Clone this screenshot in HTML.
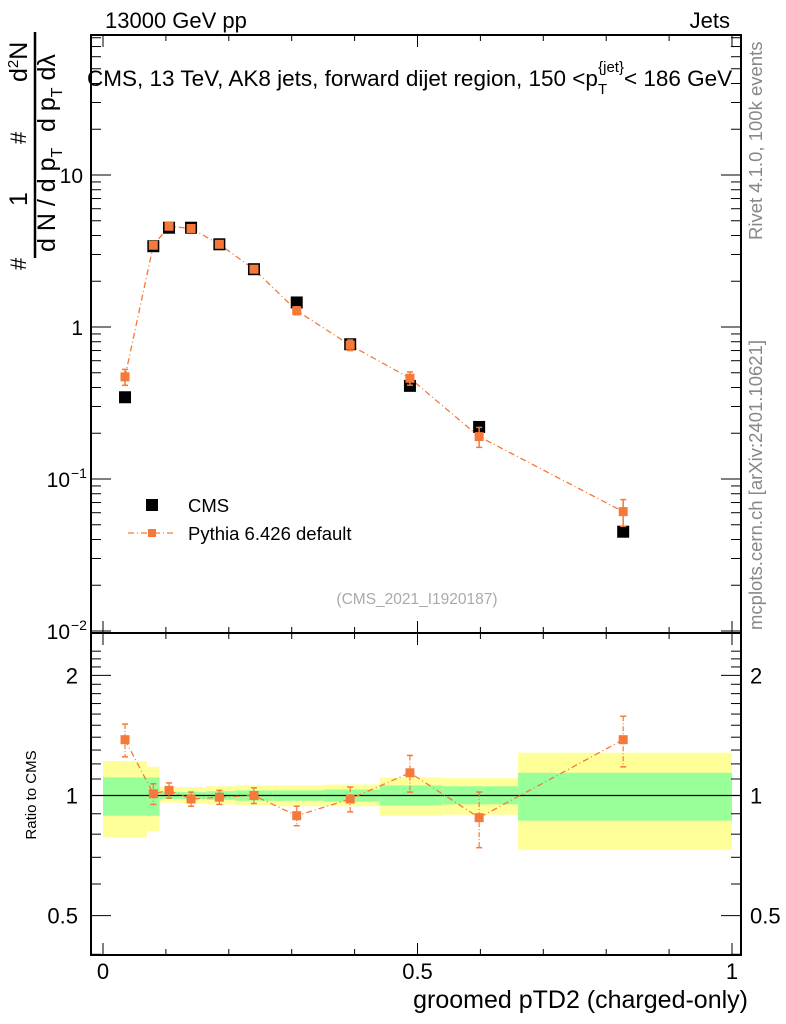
<!DOCTYPE html>
<html><head><meta charset="utf-8"><style>
html,body{margin:0;padding:0;background:#fff}
svg{display:block;font-family:"Liberation Sans",sans-serif}
</style></head><body>
<svg id="chart" width="786" height="1024" viewBox="0 0 786 1024">
<g id="bands"></g>
<g id="grid"></g>
<g id="marks"></g>
<text x="105" y="28" font-size="22">13000 GeV pp</text>
<text x="730" y="28" font-size="22" text-anchor="end">Jets</text>
<text x="87" y="86" font-size="22.5">CMS, 13 TeV, AK8 jets, forward dijet region, 150 &lt;p<tspan font-size="15" dy="8">T</tspan><tspan font-size="15" dy="-22" dx="-9">{jet}</tspan><tspan dy="14">&lt; 186 GeV</tspan></text>
<text transform="translate(762,240) rotate(-90)" font-size="18.5" fill="#888">Rivet 4.1.0,  100k events</text>
<text transform="translate(762,630) rotate(-90)" font-size="18.5" fill="#888">mcplots.cern.ch [arXiv:2401.10621]</text>
<text x="417" y="604" font-size="15.5" fill="#aaa" text-anchor="middle">(CMS_2021_I1920187)</text>
<text x="748" y="1008" font-size="25" text-anchor="end">groomed pTD2 (charged-only)</text>
<text transform="translate(36,795) rotate(-90)" font-size="15" text-anchor="middle">Ratio to CMS</text>
<g transform="translate(0,272) rotate(-90)" font-size="25">
  <text x="2" y="26" font-size="22">#</text>
  <text x="20" y="55">d N / d p<tspan font-size="16" dy="7">T</tspan></text>
  <text x="66" y="27">1</text>
  <line x1="14" y1="35" x2="240" y2="35" stroke="#000" stroke-width="2.5"/>
  <text x="128" y="26" font-size="22">#</text>
  <text x="140" y="55">d p<tspan font-size="16" dy="7">T</tspan><tspan dy="-7"> dλ</tspan></text>
  <text x="190" y="27">d<tspan font-size="15" dy="-9">2</tspan><tspan dy="9">N</tspan></text>
</g>
<g>
  <rect x="146" y="499" width="12" height="12" fill="#000"/>
  <text x="188" y="512" font-size="18.5">CMS</text>
  <line x1="128" y1="533" x2="176" y2="533" stroke="#f5793a" stroke-width="1.3" stroke-dasharray="6,3,1,3"/>
  <rect x="148" y="529" width="8" height="8" fill="#f5793a"/>
  <text x="188" y="540" font-size="18.5">Pythia 6.426 default</text>
</g>
</svg>
<script>
const xVals=[0.035,0.08,0.105,0.14,0.185,0.24,0.308,0.393,0.488,0.598,0.827];
const cmsVals=[0.345,3.4,4.5,4.5,3.5,2.4,1.45,0.77,0.41,0.22,0.045];
const mcVals=[0.47,3.45,4.6,4.45,3.5,2.4,1.28,0.76,0.46,0.19,0.061];
const mcErrRel=[0.12,0.04,0.03,0.03,0.03,0.04,0.06,0.08,0.1,0.15,0.2];
const ratioVals=[1.38,1.01,1.03,0.98,0.99,1.0,0.89,0.98,1.14,0.88,1.38];
const ratioErr=[0.13,0.06,0.045,0.04,0.04,0.045,0.05,0.07,0.12,0.14,0.2];
const binEdges=[0,0.07,0.09,0.125,0.165,0.21,0.27,0.35,0.44,0.54,0.66,1.0];
const yellowHi=[1.22,1.18,1.05,1.05,1.055,1.06,1.06,1.065,1.11,1.105,1.28];
const yellowLo=[0.785,0.815,0.96,0.955,0.95,0.945,0.94,0.94,0.89,0.895,0.73];
const greenHi=[1.11,1.11,1.02,1.02,1.025,1.03,1.03,1.035,1.06,1.055,1.14];
const greenLo=[0.89,0.89,0.98,0.98,0.975,0.97,0.97,0.965,0.945,0.95,0.865];
const xTicks=[0,0.5,1];
const xTickLabels=["0","0.5","1"];
const ratioTicks=[2,1,0.5];
const ratioTickLabels=["2","1","0.5"];

const NS="http://www.w3.org/2000/svg";
const L=91,R=741,T=35,M=633,B=955;
const X=v=>103+629*v;
const Y=v=>327-152*Math.log10(v);
const YR=r=>795.5-399*Math.log10(r);
function mk(par,tag,attrs){const e=document.createElementNS(NS,tag);for(const k in attrs)e.setAttribute(k,attrs[k]);document.getElementById(par).appendChild(e);return e;}

for(let i=0;i<binEdges.length-1;i++){
  let e=mk('bands','rect',{x:X(binEdges[i]),y:YR(yellowHi[i]),width:X(binEdges[i+1])-X(binEdges[i]),height:YR(yellowLo[i])-YR(yellowHi[i]),fill:'#ffff99'});
  
  
  let g=mk('bands','rect',{x:X(binEdges[i]),y:YR(greenHi[i]),width:X(binEdges[i+1])-X(binEdges[i]),height:YR(greenLo[i])-YR(greenHi[i]),fill:'#99ff99'});
  
  
}
let f1=mk('grid','rect',{x:L,y:T,width:R-L,height:M-T,fill:'none',stroke:'#000','stroke-width':2});


let f2=mk('grid','rect',{x:L,y:M,width:R-L,height:B-M,fill:'none',stroke:'#000','stroke-width':2});


let one=mk('grid','line',{x1:L,x2:R,y1:YR(1),y2:YR(1),stroke:'#000','stroke-width':1.3});


for(let v=0;v<=1.0001;v+=0.1){
  const major=Math.abs(v*2-Math.round(v*2))<1e-6;const len=major?12:6;
  for(const [y0,d] of [[B,-1],[M,1],[M,-1],[T,1]]){
    mk('grid','line',{x1:X(v),x2:X(v),y1:y0,y2:y0+d*len,stroke:'#000','stroke-width':1});
  }
}
xTicks.forEach((v,i)=>{let t=mk('grid','text',{x:X(v),y:979,'font-size':22,'text-anchor':'middle'});t.textContent=xTickLabels[i];

});
for(let d=-2;d<=1;d++){for(let m=1;m<10;m++){const v=m*Math.pow(10,d);const y=Y(v);if(y<T||y>M)continue;const len=m==1?20:10;
 mk('grid','line',{x1:L,x2:L+len,y1:y,y2:y,stroke:'#000','stroke-width':1});mk('grid','line',{x1:R,x2:R-len,y1:y,y2:y,stroke:'#000','stroke-width':1});}}
const mainLbl=[[10,"10"],[1,"1"],[0.1,"10"],[0.01,"10"]];
mainLbl.forEach(([v,s],i)=>{let t=mk('grid','text',{x:i>=2?70:83,y:Y(v)+8,'font-size':21,'text-anchor':'end'});t.textContent=s;


if(i>=2){let s2=mk('grid','text',{x:71,y:Y(v)-1,'font-size':14});s2.textContent=i==2?"−1":"−2";}});
for(let r=0.4;r<=2.31;r+=0.1){const y=YR(r);if(y<M||y>B)continue;const maj=ratioTicks.some(t=>Math.abs(t-r)<1e-6);const len=maj?20:10;
 mk('grid','line',{x1:L,x2:L+len,y1:y,y2:y,stroke:'#000','stroke-width':1});mk('grid','line',{x1:R,x2:R-len,y1:y,y2:y,stroke:'#000','stroke-width':1});}
ratioTicks.forEach((v,i)=>{let t=mk('grid','text',{x:78,y:YR(v)+8,'font-size':22,'text-anchor':'end'});t.textContent=ratioTickLabels[i];


let t2=mk('grid','text',{x:750,y:YR(v)+8,'font-size':22});t2.textContent=ratioTickLabels[i];

});
const OR='#f5793a';
let pl=mk('marks','polyline',{points:xVals.map((x,i)=>X(x)+','+Y(mcVals[i])).join(' '),fill:'none',stroke:OR,'stroke-width':1.3,'stroke-dasharray':'6,3,1,3'});


xVals.forEach((x,i)=>{
  let c=mk('marks','rect',{x:X(x)-6,y:Y(cmsVals[i])-6,width:12,height:12,fill:'#000'});
  
  
});
xVals.forEach((x,i)=>{
  const hi=Y(mcVals[i]*(1+mcErrRel[i])),lo=Y(mcVals[i]*(1-mcErrRel[i]));
  mk('marks','line',{x1:X(x),x2:X(x),y1:hi,y2:lo,stroke:OR,'stroke-width':1.5});
  mk('marks','line',{x1:X(x)-3,x2:X(x)+3,y1:hi,y2:hi,stroke:OR,'stroke-width':1.5});
  mk('marks','line',{x1:X(x)-3,x2:X(x)+3,y1:lo,y2:lo,stroke:OR,'stroke-width':1.5});
  let p=mk('marks','rect',{x:X(x)-4.5,y:Y(mcVals[i])-4.5,width:9,height:9,fill:OR});
  
  
});
let rl=mk('marks','polyline',{points:xVals.map((x,i)=>X(x)+','+YR(ratioVals[i])).join(' '),fill:'none',stroke:OR,'stroke-width':1.3,'stroke-dasharray':'6,3,1,3'});


xVals.forEach((x,i)=>{
  const hi=YR(ratioVals[i]+ratioErr[i]),lo=YR(ratioVals[i]-ratioErr[i]);
  mk('marks','line',{x1:X(x),x2:X(x),y1:hi,y2:lo,stroke:OR,'stroke-width':1.2,'stroke-dasharray':'5,2,1,2'});
  mk('marks','line',{x1:X(x)-3,x2:X(x)+3,y1:hi,y2:hi,stroke:OR,'stroke-width':1.5});
  mk('marks','line',{x1:X(x)-3,x2:X(x)+3,y1:lo,y2:lo,stroke:OR,'stroke-width':1.5});
  let p=mk('marks','rect',{x:X(x)-4.5,y:YR(ratioVals[i])-4.5,width:9,height:9,fill:OR});
  
  
});
</script>
</body></html>
